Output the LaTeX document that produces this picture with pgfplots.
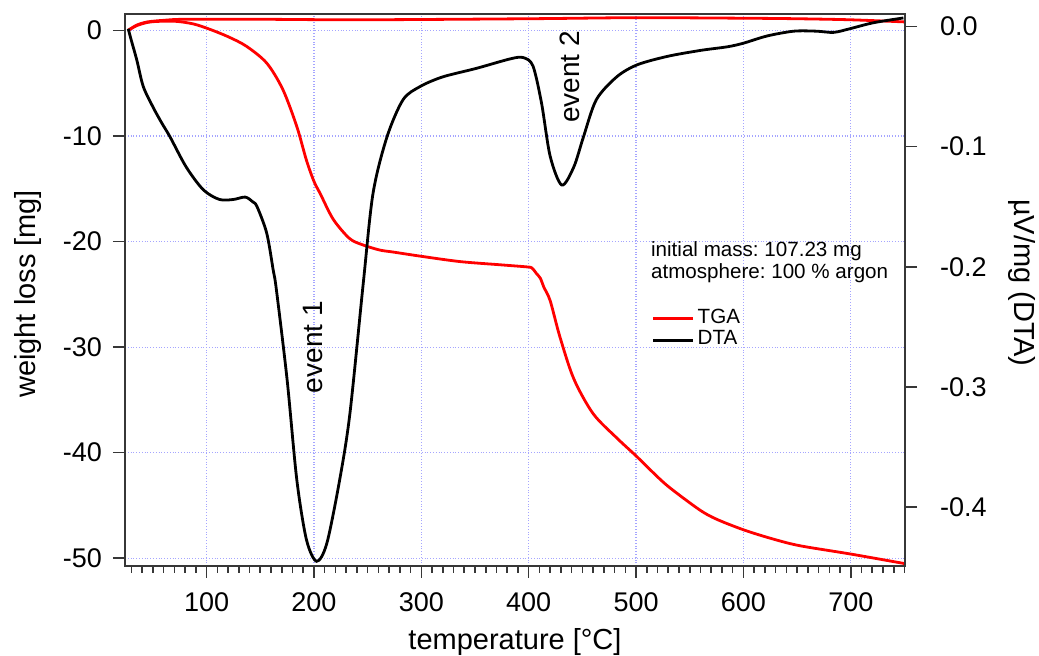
\documentclass[border=0pt]{standalone}
\usepackage{fontspec}
\setmainfont{Liberation Sans}
\usepackage{pgfplots}
\pgfplotsset{compat=1.18}
\frenchspacing

\definecolor{gridblue}{RGB}{165,165,255}
\definecolor{axisgray}{RGB}{55,55,55}

% thermogravimetry (left axis)
\pgfplotstableread{
T     m
27    0.0
35    0.45
45    0.75
55    0.85
72    0.85
88    0.6
103   0.1
120  -0.6
137  -1.5
156  -3.1
171  -5.6
184  -9.1
193  -12.3
200  -14.3
206  -15.5
218  -17.9
233  -19.7
245  -20.3
261  -20.8
274  -21.0
300  -21.4
336  -21.9
373  -22.2
398  -22.4
403  -22.5
407  -23.0
411  -23.5
414  -24.3
420  -25.6
429  -29.0
442  -33.0
460  -36.3
482  -38.6
500  -40.3
513  -41.6
530  -43.2
559  -45.4
575  -46.3
600  -47.3
625  -48.1
652  -48.8
700  -49.6
750  -50.5
}\tga

% upper red trace
\pgfplotstableread{
T     m
27    0.0
35    0.5
45    0.8
60    0.95
80    1.05
150   1.05
243   1.0
400   1.1
500   1.2
600   1.15
650   1.1
700   1.0
750   0.8
}\tgatop

% differential thermal analysis (right axis)
\pgfplotstableread{
T      d
27    -0.002
30    -0.012
35    -0.028
41    -0.050
50    -0.067
58    -0.080
66    -0.092
81    -0.117
97    -0.136
112   -0.144
125   -0.144
136   -0.142
143   -0.146
147   -0.150
156   -0.172
162   -0.2025
165   -0.219
175   -0.294
184   -0.377
193   -0.427
202.5 -0.445
212   -0.430
224   -0.377
233.5 -0.322
246   -0.213
255   -0.139
268   -0.092
283   -0.061
299   -0.050
320   -0.042
351   -0.035
383   -0.027
395   -0.026
404   -0.033
412   -0.064
420   -0.108
430.8 -0.132
442   -0.117
451   -0.092
463   -0.061
482   -0.042
501   -0.032
529   -0.025
560   -0.020
585   -0.017
600   -0.014
622   -0.008
647   -0.004
668   -0.004
684   -0.005
699   -0.002
721    0.003
749    0.007
}\dta

\pgfplotsset{
  frame/.style={
    scale only axis, width=390pt, height=276pt,
    xmin=24, xmax=750.5,
    tick align=outside,
    major tick length=6pt, minor tick length=3.5pt,
    tick style={axisgray, line width=0.8pt},
    axis line style={axisgray, line width=1pt},
    tick label style={font=\fontsize{13.5}{14}\selectfont},
    /pgf/number format/assume math mode=true,
  }
}

\begin{document}
\begin{tikzpicture}
\useasboundingbox (-62.5pt,-45pt) rectangle (457pt,283pt);

\begin{axis}[frame,
  ymin=-50.73, ymax=1.55,
  xtick={100,200,...,700},
  minor xtick={30,40,...,750},
  ytick={-50,-40,...,0},
  xtick pos=bottom, ytick pos=left,
  xticklabel style={yshift=-4pt},
  yticklabel style={xshift=-2pt},
  grid=major,
  major grid style={gridblue, densely dotted, line width=0.6pt},
  xlabel={temperature [°C]},
  ylabel={weight loss [mg]},
  every axis x label/.style={at={(axis description cs:0.5,-0.138)}, anchor=center, font=\fontsize{14.5}{16}\selectfont},
  every axis y label/.style={at={(axis description cs:-0.1244,0.493)}, rotate=90, anchor=center, font=\fontsize{14.5}{16}\selectfont},
]
\addplot[red, line width=1.4pt, smooth] table[x=T, y=m] {\tgatop};
\addplot[red, line width=1.4pt, smooth] table[x=T, y=m] {\tga};
\node[rotate=90, font=\fontsize{14}{16}\selectfont] at (axis cs:199.5,-30.0) {event 1};
\node[rotate=90, font=\fontsize{14}{16}\selectfont] at (axis cs:438.6,-4.4) {event 2};
\end{axis}

\begin{axis}[frame,
  ymin=-0.4489, ymax=0.0103,
  axis x line=none,
  axis y line*=right,
  ytick={-0.4,-0.3,-0.2,-0.1,0},
  yticklabel style={xshift=8pt, /pgf/number format/.cd, fixed, fixed zerofill, precision=1},
  ylabel={µV/mg (DTA)},
  every axis y label/.style={at={(axis description cs:1.15,0.513)}, rotate=-90, anchor=center, font=\fontsize{14.5}{16}\selectfont},
  legend image code/.code={\draw[#1] (0pt,0pt) -- (20pt,0pt);},
  legend style={at={(0.675,0.468)}, anchor=north west, draw=none, fill=none,
    inner sep=0pt, font=\fontsize{10.3}{11}\selectfont, cells={anchor=west},
    nodes={inner xsep=1.5pt, inner ysep=0pt, text height=7.5pt, text depth=3.3pt},
    row sep=0pt},
]
\addlegendimage{red, line width=1.4pt}
\addlegendentry{TGA}
\addplot[black, line width=1.4pt, smooth] table[x=T, y=d] {\dta};
\addlegendentry{DTA}
\node[anchor=north west, align=left, inner sep=0pt, font=\fontsize{10.3}{11.3}\selectfont]
  at (rel axis cs:0.674,0.589) {initial mass: 107.23 mg\\atmosphere: 100 \% argon};
\end{axis}
\end{tikzpicture}
\end{document}
